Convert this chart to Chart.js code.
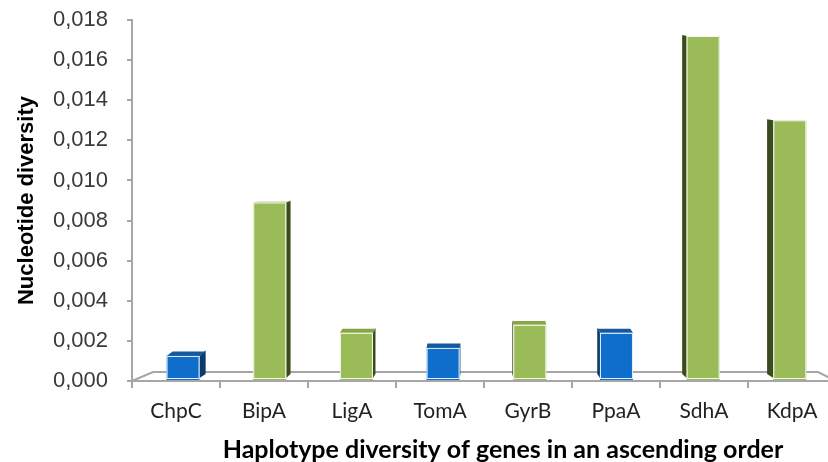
<!DOCTYPE html>
<html>
<head>
<meta charset="utf-8">
<script src="https://cdn.jsdelivr.net/npm/chart.js@4.4.1/dist/chart.umd.min.js"></script>
<style>
  html, body { margin: 0; padding: 0; background: #fff; overflow: hidden; }
  #wrap { width: 840px; height: 462px; }
</style>
</head>
<body>
<div id="wrap"><canvas id="diversity-chart"></canvas></div>
<script>
"use strict";

const genes = ['ChpC', 'BipA', 'LigA', 'TomA', 'GyrB', 'PpaA', 'SdhA', 'KdpA'];
const nucleotideDiversity = [0.00125, 0.0089, 0.0024, 0.00165, 0.0028, 0.0024, 0.0172, 0.0130];
const blueGenes = ['ChpC', 'TomA', 'PpaA'];
const yTickValues = [0, 0.002, 0.004, 0.006, 0.008, 0.010, 0.012, 0.014, 0.016, 0.018];
const xTitle = 'Haplotype diversity of genes in an ascending order';
const yTitle = 'Nucleotide diversity';

const palettes = {
  blue: { front: '#0f6dcb', top: '#14589f', side: '#0b3a6b' },
  green: { front: '#9bbb59', top: '#87a447', side: '#3c4b1d' },
};

const paletteFor = (gene) => (blueGenes.includes(gene) ? palettes.blue : palettes.green);

const axisGrey = '#a6a6a6';
const vanishX = 480;
const skew = 0.02;

const formatTick = (value) => Number(value).toFixed(3).replace('.', ',');

// fake perspective: side depth, top depth and a small sideways shift of each bar
const sideDepth = (x) => (vanishX - x) * skew;
const topDepth = (y) => Math.max(0, Math.min(4.5, (y - 170) / 40));
const frontShift = (x) => sideDepth(x) * 0.75 + 2.5;

const bar3d = {
  id: 'bar3d',
  beforeDatasetsDraw(chart) {
    const { ctx, chartArea: { left, right, bottom } } = chart;
    ctx.save();
    ctx.strokeStyle = axisGrey;
    ctx.lineWidth = 2;
    ctx.beginPath();
    ctx.moveTo(left, bottom);
    ctx.lineTo(left + 21, bottom - 9);
    ctx.lineTo(right - 18, bottom - 9);
    ctx.lineTo(right, bottom);
    ctx.stroke();
    ctx.restore();
  },
  beforeDatasetDraw(chart, args) {
    const { ctx } = chart;
    const meta = args.meta;

    meta.data.forEach((bar, i) => {
      const { x, y, base, width } = bar.getProps(['x', 'y', 'base', 'width'], true);
      const pal = paletteFor(genes[i]);
      const shift = frontShift(x);
      const dx = sideDepth(x);
      const dy = topDepth(y);
      const l = x - width / 2 + shift;
      const r = x + width / 2 + shift;
      const sx = dx > 0 ? r : l;
      const b = base - 2;

      ctx.save();
      ctx.fillStyle = pal.side;
      ctx.beginPath();
      ctx.moveTo(sx, y);
      ctx.lineTo(sx + dx, y - dy - 1);
      ctx.lineTo(sx + dx, b - 4);
      ctx.lineTo(sx, b);
      ctx.closePath();
      ctx.fill();

      if (dy > 0.5) {
        ctx.fillStyle = pal.top;
        ctx.beginPath();
        ctx.moveTo(l, y);
        ctx.lineTo(l + dx, y - dy);
        ctx.lineTo(r + dx, y - dy);
        ctx.lineTo(r, y);
        ctx.closePath();
        ctx.fill();
      }

      ctx.translate(shift, 0);
      bar.draw(ctx, chart.chartArea);
      ctx.restore();

      ctx.save();
      ctx.strokeStyle = 'rgba(255,255,255,0.9)';
      ctx.lineWidth = 1;
      ctx.strokeRect(l + 0.5, y + 0.5, width - 1, b - y);
      ctx.restore();
    });

    return false;
  },
  afterDraw(chart) {
    const { ctx } = chart;
    ctx.save();
    ctx.fillStyle = '#000';
    ctx.font = 'bold 25px Lato';
    ctx.textAlign = 'center';
    ctx.textBaseline = 'middle';
    ctx.fillText(xTitle, 503, 450);
    ctx.restore();
  },
};

new Chart(document.getElementById('diversity-chart'), {
  type: 'bar',
  data: {
    labels: genes,
    datasets: [{
      label: yTitle,
      data: nucleotideDiversity,
      backgroundColor: genes.map((g) => paletteFor(g).front),
      borderWidth: 0,
      categoryPercentage: 1,
      barPercentage: 0.375,
    }],
  },
  options: {
    responsive: true,
    maintainAspectRatio: false,
    animation: false,
    layout: {
      padding: { top: 20, right: 4, left: 0, bottom: 0 },
    },
    plugins: {
      legend: { display: false },
      tooltip: { enabled: false },
    },
    scales: {
      x: {
        grid: {
          display: true,
          drawOnChartArea: false,
          tickLength: 7,
          color: axisGrey,
          lineWidth: 2,
        },
        border: { color: axisGrey, width: 2 },
        ticks: {
          color: '#222',
          padding: 11,
          font: { family: 'Lato', size: 21 },
        },
        afterFit: (scale) => {
          scale.height = 81;
        },
      },
      y: {
        min: 0,
        max: 0.018,
        afterBuildTicks: (scale) => {
          scale.ticks = yTickValues.map((value) => ({ value }));
        },
        grid: {
          display: true,
          drawOnChartArea: false,
          tickLength: 5,
          color: axisGrey,
          lineWidth: 2,
        },
        border: { color: axisGrey, width: 2 },
        ticks: {
          color: '#3a3a3a',
          padding: 19,
          font: { family: 'Liberation Sans', size: 22 },
          callback: (value) => formatTick(value),
        },
        title: {
          display: true,
          text: yTitle,
          color: '#000',
          font: { family: 'Liberation Sans', size: 22, weight: 'bold' },
          padding: { top: 14, bottom: 0 },
        },
        afterFit: (scale) => {
          scale.width = 132;
          scale.paddingTop = 0;
          scale.paddingBottom = 0;
        },
      },
    },
  },
  plugins: [bar3d],
});
</script>
</body>
</html>
